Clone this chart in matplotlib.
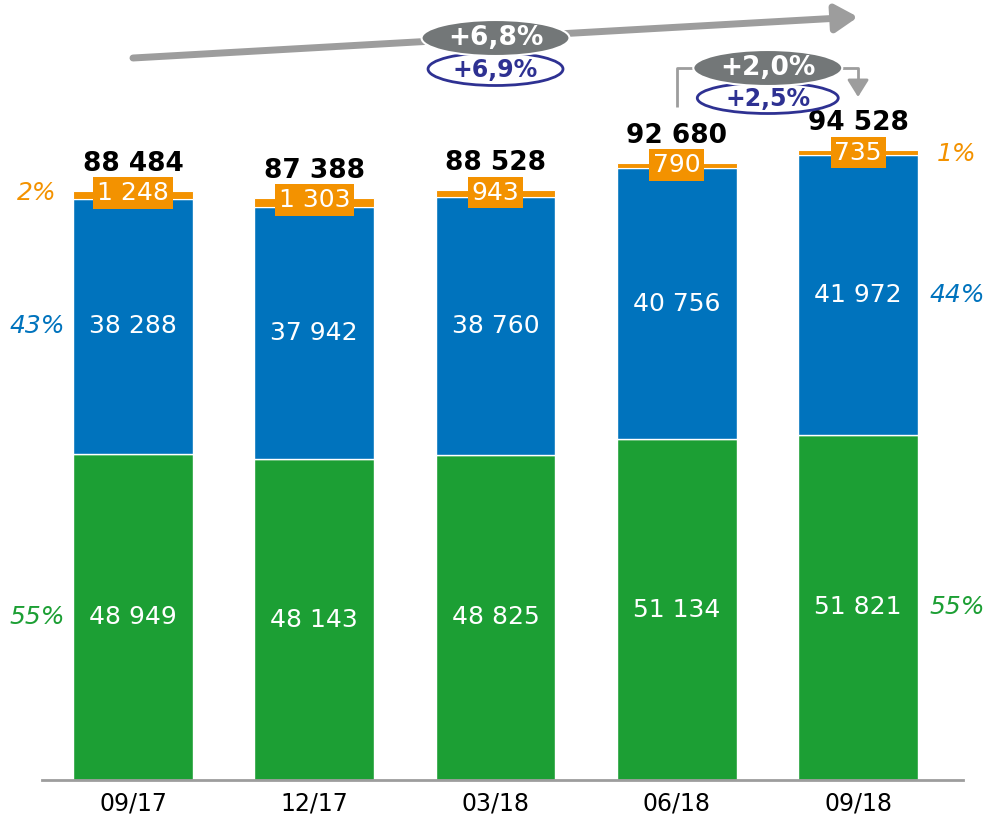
import matplotlib
matplotlib.use("Agg")
import matplotlib.pyplot as plt
from matplotlib.patches import Ellipse, FancyArrowPatch
import numpy as np

categories = ["09/17", "12/17", "03/18", "06/18", "09/18"]
green = [48949, 48143, 48825, 51134, 51821]
blue = [38288, 37942, 38760, 40756, 41972]
orange = [1248, 1303, 943, 790, 735]
totals = [88484, 87388, 88528, 92680, 94528]
green_lbl = ["48 949", "48 143", "48 825", "51 134", "51 821"]
blue_lbl = ["38 288", "37 942", "38 760", "40 756", "41 972"]
orange_lbl = ["1 248", "1 303", "943", "790", "735"]
total_lbl = ["88 484", "87 388", "88 528", "92 680", "94 528"]
left_pct = ["55%", "43%", "2%"]
right_pct = ["55%", "44%", "1%"]
growth_year = ["+6,8%", "+6,9%"]
growth_q = ["+2,0%", "+2,5%"]

C_GREEN = "#1c9f34"
C_BLUE = "#0073bd"
C_ORANGE = "#f39200"
C_NAVY = "#2e3192"
C_DGRAY = "#737778"
C_LGRAY = "#9d9d9d"

W, H = 986, 817
fig = plt.figure(figsize=(W / 100, H / 100), dpi=100)
ax = fig.add_axes([42 / W, (H - 780) / H, (963 - 42) / W, 780 / H])
YMAX = 117100
ax.set_ylim(0, YMAX)
ax.set_xlim(-0.502, 4.579)

def py(p):
    # pixel row in figure -> data value
    return YMAX * (780 - p) / 780

x = np.arange(len(categories))
bw = 0.66
g = np.array(green)
b = np.array(blue)
o = np.array(orange)
ax.bar(x, g, bw, color=C_GREEN, edgecolor="white", linewidth=1)
ax.bar(x, b, bw, bottom=g, color=C_BLUE, edgecolor="white", linewidth=1)
ax.bar(x, o, bw, bottom=g + b, color=C_ORANGE, edgecolor="white", linewidth=0.8)

for i in x:
    ax.text(i, g[i] / 2, green_lbl[i], ha="center", va="center", color="white", fontsize=18)
    ax.text(i, g[i] + b[i] / 2, blue_lbl[i], ha="center", va="center", color="white", fontsize=18)
    top = g[i] + b[i] + o[i]
    ax.text(i, top - 350, orange_lbl[i], ha="center", va="center", color="white", fontsize=18,
            bbox=dict(boxstyle="square,pad=0.15", fc=C_ORANGE, ec="none"))
    ax.annotate(total_lbl[i], (i, top), xytext=(0, 19.5), textcoords="offset points",
                ha="center", va="center", fontsize=19, fontweight="bold", color="black")

# side percentages
xl, xr = -0.53, 4.546
ax.text(xl, g[0] / 2, left_pct[0], ha="center", va="center", color=C_GREEN, fontsize=18, style="italic", clip_on=False)
ax.text(xl, g[0] + b[0] / 2, left_pct[1], ha="center", va="center", color=C_BLUE, fontsize=18, style="italic", clip_on=False)
ax.text(xl, totals[0] - 350, left_pct[2], ha="center", va="center", color=C_ORANGE, fontsize=18, style="italic", clip_on=False)
ax.text(xr, g[4] / 2, right_pct[0], ha="center", va="center", color=C_GREEN, fontsize=18, style="italic", clip_on=False)
ax.text(xr, g[4] + b[4] / 2, right_pct[1], ha="center", va="center", color=C_BLUE, fontsize=18, style="italic", clip_on=False)
ax.text(xr, totals[4] - 600, right_pct[2], ha="center", va="center", color=C_ORANGE, fontsize=18, style="italic", clip_on=False)

# yearly growth arrow
ax.add_patch(FancyArrowPatch((0, py(58)), (4, py(17)), arrowstyle="-|>,head_length=9,head_width=5.5",
                             mutation_scale=1.5, color=C_LGRAY, lw=5, clip_on=False, shrinkA=0, shrinkB=0))
def px_w(p):
    return p / 181.3
def px_h(p):
    return YMAX * p / 780

ax.add_patch(Ellipse((2, py(38)), px_w(148), px_h(36), fc=C_DGRAY, ec="white", lw=1.5, zorder=5, clip_on=False))
ax.text(2, py(38), growth_year[0], ha="center", va="center", color="white", fontsize=19, fontweight="bold", zorder=6)
ax.add_patch(Ellipse((2, py(69)), px_w(135), px_h(33), fc="white", ec=C_NAVY, lw=2, zorder=4, clip_on=False))
ax.text(2, py(70), growth_year[1], ha="center", va="center", color=C_NAVY, fontsize=17, fontweight="bold", zorder=6)

# quarterly growth bracket
xe = 3 + px_w(768 - 677)
ax.plot([3, 3, xe], [py(107), py(68), py(68)], color=C_LGRAY, lw=2, solid_capstyle="butt", clip_on=False)
ax.plot([xe, 4, 4], [py(68), py(68), py(86)], color=C_LGRAY, lw=2, clip_on=False)
ax.add_patch(FancyArrowPatch((4, py(86)), (4, py(97)), arrowstyle="-|>,head_length=8,head_width=5",
                             mutation_scale=1.3, color=C_LGRAY, lw=2, clip_on=False, shrinkA=0, shrinkB=0))
ax.add_patch(Ellipse((xe, py(98)), px_w(141), px_h(31), fc="white", ec=C_NAVY, lw=2, zorder=4, clip_on=False))
ax.text(xe, py(99), growth_q[1], ha="center", va="center", color=C_NAVY, fontsize=17, fontweight="bold", zorder=6)
ax.add_patch(Ellipse((xe, py(68)), px_w(149), px_h(36), fc=C_DGRAY, ec="white", lw=1.5, zorder=5, clip_on=False))
ax.text(xe, py(68), growth_q[0], ha="center", va="center", color="white", fontsize=19, fontweight="bold", zorder=6)

for s in ["top", "left", "right"]:
    ax.spines[s].set_visible(False)
ax.spines["bottom"].set_color(C_LGRAY)
ax.spines["bottom"].set_linewidth(2)
ax.set_yticks([])
ax.set_xticks(x)
ax.set_xticklabels(categories, fontsize=17)
ax.tick_params(axis="x", length=0, pad=8)

fig.savefig("out.png", dpi=100)
